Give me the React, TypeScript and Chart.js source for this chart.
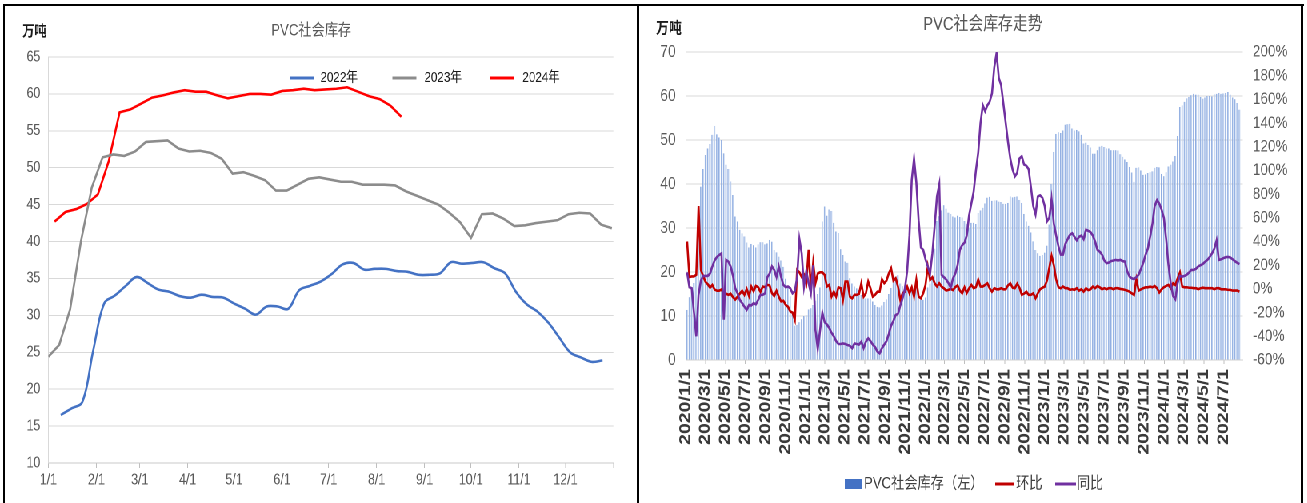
import React, { useEffect, useRef } from 'react';
import { Chart, registerables } from 'chart.js';

Chart.register(...registerables);

const FONT = "'Liberation Sans', 'Noto Sans CJK SC', sans-serif";
const DAY_MS = 86400000;
const WEEK = 7;

// ---------------- Left chart: PVC社会库存 (万吨), weekly readings by year ----------------
const leftTitle = 'PVC社会库存';
const unitLabel = '万吨';
const monthLabels = ['1/1', '2/1', '3/1', '4/1', '5/1', '6/1', '7/1', '8/1', '9/1', '10/1', '11/1', '12/1'];
const yearNames = ['2022年', '2023年', '2024年'];
const yearColors = ['#4472C4', '#8C8C8C', '#FF0000'];
// day-of-year of the first weekly reading of each year
const start2022 = 8;
const start2023 = 0;
const start2024 = 4;

const stock2022 = [
  16.5, 17.4, 18.3, 25.3, 31.6, 32.7, 34.0, 35.2, 34.4, 33.5,
  33.2, 32.6, 32.4, 32.8, 32.5, 32.4, 31.6, 30.9, 30.1, 31.2,
  31.2, 30.9, 33.4, 34.0, 34.6, 35.6, 36.9, 37.1, 36.2, 36.3,
  36.3, 36.0, 35.9, 35.5, 35.5, 35.7, 37.2, 37.0, 37.1, 37.2,
  36.4, 35.7, 33.2, 31.5, 30.5, 29.0, 27.0, 25.0, 24.3, 23.7,
  23.9,
];
const stock2023 = [
  24.4, 26.0, 30.8, 40.0, 47.3, 51.4, 51.8, 51.6, 52.2, 53.5,
  53.6, 53.7, 52.6, 52.2, 52.3, 52.0, 51.2, 49.2, 49.4, 48.9,
  48.3, 46.9, 46.9, 47.7, 48.5, 48.7, 48.4, 48.1, 48.1, 47.7,
  47.7, 47.7, 47.6, 46.8, 46.2, 45.6, 45.0, 43.9, 42.6, 40.5,
  43.7, 43.8, 43.1, 42.1, 42.2, 42.5, 42.7, 42.9, 43.7, 43.9,
  43.8, 42.3, 41.8,
];
const stock2024 = [
  42.7, 44.0, 44.4, 45.1, 46.4, 50.9, 57.5, 57.9, 58.7, 59.5,
  59.8, 60.2, 60.5, 60.3, 60.3, 59.8, 59.4, 59.7, 60.0, 60.0,
  59.9, 60.4, 60.5, 60.7, 60.5, 60.6, 60.7, 60.9, 60.3, 59.7,
  59.3, 58.4, 56.9,
];

// ---------------- Right chart: PVC社会库存走势 ----------------
const rightTitle = 'PVC社会库存走势';
const rightLegend = ['PVC社会库存（左）', '环比', '同比'];
const rightTickLabels = [
  '2020/1/1', '2020/3/1', '2020/5/1', '2020/7/1', '2020/9/1', '2020/11/1',
  '2021/1/1', '2021/3/1', '2021/5/1', '2021/7/1', '2021/9/1', '2021/11/1',
  '2022/1/1', '2022/3/1', '2022/5/1', '2022/7/1', '2022/9/1', '2022/11/1',
  '2023/1/1', '2023/3/1', '2023/5/1', '2023/7/1', '2023/9/1', '2023/11/1',
  '2024/1/1', '2024/3/1', '2024/5/1', '2024/7/1',
];
const axisStartDate = '2020/1/1';
const axisEndDate = '2024/8/28';
const firstWeekDate = '2020/1/5';

const stock2020 = [
  11.4, 14.3, 15.8, 17.5, 20.0, 34.0, 39.4, 43.4, 46.6, 48.1,
  49.1, 51.2, 53.2, 51.3, 50.6, 50.0, 47.0, 44.4, 43.4, 40.6,
  37.5, 32.6, 31.5, 29.6, 28.8, 28.1, 26.7, 25.6, 26.4, 26.1,
  25.6, 26.3, 26.8, 26.8, 26.3, 26.5, 27.3, 26.9, 25.0, 24.5,
  23.5, 22.6, 21.2, 18.5, 16.5, 14.5, 11.0, 7.8, 8.0, 8.6,
  9.3, 10.0,
];
const stock2021 = [
  10.2, 11.5, 11.8, 12.5, 13.5, 15.0, 16.5, 31.5, 34.9, 32.8,
  34.2, 33.9, 31.2, 29.2, 28.9, 25.2, 23.9, 22.4, 22.1, 18.6,
  17.4, 16.7, 16.3, 15.9, 14.8, 14.4, 14.0, 14.0, 14.0, 13.3,
  12.5, 12.1, 12.0, 12.4, 13.2, 13.8, 15.0, 16.4, 18.0, 19.0,
  19.3, 17.4, 16.8, 17.0, 16.5, 16.0, 16.2, 15.4, 16.4, 15.3,
  14.2, 13.7, 14.2,
];

// 环比 (%)
const mom2020 = [
  40, 10, 10.5, 10.5, 12, 70, 16, 11, 6, 4,
  1, 3.4, -0.5, -1.5, -1.5, -0.5, -4, -4, -5, -4,
  -7, -9, -6.5, -4, -1.5, -5, 0, -6, 2, -2,
  2.5, 1.5, -2.5, 2, 1.5, 3.4, 3, -3.5, -6, -1.5,
  -6.5, -10.5, -10, -13.5, -15, -19, -20, -26, 16, 14,
  10, 12,
];
const mom2021 = [
  5, 33, 0, 22, 5, 13, 14, 14, 11.8, 2,
  3.4, -6.5, -2.3, -6.5, 1.4, 0.6, -9.3, 6.2, 6.2, -6.5,
  -7.9, -5, -5, -4.2, 4.8, -6.5, -3.7, 6.2, 0.6, -6.5,
  -5, -2.3, -2.3, 8.2, 4.8, 7, 13.2, 17.5, 7, 9,
  2, -9.3, -3.7, -2.3, 2, -3.7, 1.4, -6.5, 7.6, -6.5,
  -7.9, -3.7, 3.4,
];
const mom2022 = [
  18.9, 7.6, 9.9, 4.8, 2, 4.8, 2, 0.6, -1.4, -0.8,
  0, -1, 1.5, 3, -1.4, -3.7, 1.4, -3.5, 0.6, 3.4,
  0.6, 1.5, 8, 2, 2, 3.4, 4.8, 0.5, -2.3, 0.6,
  -0.3, -0.3, 0.6, -0.3, -0.3, 3, 4.8, 1, 0.6, 4.5,
  1, -5, -4, -2.3, -5, -5, -3.7, -7.9, -3.7, -0.3,
  1,
];
const mom2023 = [
  2, 7, 18, 28, 20, 8, 1.4, 0.6, 2, 0.6,
  0.6, -0.8, -0.3, -0.8, 0.6, -1.4, -0.3, -2.3, 0.6, -1,
  -0.3, 2, 0.6, 2.5, 1.4, -0.3, 0.6, -0.3, 0.6, 0.6,
  -0.3, 0.6, 0.6, 0, -0.3, -0.8, -1.4, -2.3, -3.7, -5,
  8.2, -1.4, -0.3, 0.6, 1.4, 1.4, 2, 1.4, 2.5, 0.6,
  -3, -0.3, 1.4,
];
const mom2024 = [
  2.5, 3.4, 0.6, 4.8, 3.4, 9, 13.8, 2, 1.4, 1.4,
  1, 1, 0.6, 0.6, -0.3, 0.6, 1, 0.6, 0.6, 0.6,
  0.6, -0.3, 0.6, 0.6, -0.3, -0.3, -0.3, -0.8, -0.8, -1.4,
  -1.4, -1.4, -2.3,
];

// 同比 (%)
const yoy2020 = [
  14, 1.4, 0.6, -20, -40, -5, 7, 11, 11, 11,
  13, 19, 24, 27, 28.7, 30, -26, 24.5, 23, 19,
  11, 0.6, -3.7, -9.3, -12, -15, -17.7, -13.5, -14, -12,
  -13, -9.3, -5, -5, -3.7, 9.9, 13, 19, 16, 10,
  19, 10, 3.4, 1.4, 2, 0.6, -3.7, -2, 10, 42,
  30, 2,
];
const yoy2021 = [
  15, 5, -3.7, 20, -35, -50.7, -35, -20, -28, -30,
  -33, -37, -40, -44, -46.5, -46.5, -46, -46.5, -47.3, -48,
  -50, -46, -46.5, -47, -44.5, -50, -44.5, -41.7, -44, -47,
  -49, -53, -54.4, -50, -47, -44, -38, -31, -27, -22,
  -21, -14, -8, 0, 15, 45, 92, 110, 90, 58,
  35, 33, 25,
];
const yoy2022 = [
  19, 13, 30, 53, 78, 88, 12, 10, 8, 5,
  1, 9, 13, 20, 33, 37, 39, 45, 62, 72,
  82, 100, 115, 140, 155, 150, 155, 158, 165, 187,
  199, 178, 172, 156, 140, 124, 110, 100.6, 95, 98,
  110, 112, 105, 104, 101, 86, 70, 63, 78, 79,
  77,
];
const yoy2023 = [
  70, 57, 60, 76, 55, 45, 36, 29, 29, 38,
  42, 45.6, 47, 44, 41, 44, 45, 42, 50, 49,
  48, 45, 40, 33, 31.5, 29, 24, 21.7, 22.3, 23.5,
  24, 24.5, 24, 24.5, 23.5, 23, 15, 10.4, 9, 8.2,
  10, 12, 17, 22, 28.7, 34, 44, 55, 70, 75,
  72, 67, 60,
];
const yoy2024 = [
  42, 20, 5, -6, -8.7, 5, 11, 10.4, 11, 12,
  14, 16, 16, 17, 19, 20, 21, 23, 24.5, 27,
  30, 34, 41, 24.5, 25, 26, 26.8, 27, 26.5, 25,
  23.5, 22, 21,
];

// ---------------- helpers ----------------
const dayOfYear = (label: string) => {
  const [m, d] = label.split('/').map(Number);
  return (Date.UTC(2023, m - 1, d) - Date.UTC(2023, 0, 1)) / DAY_MS;
};
const daysFrom = (label: string, base: string) => {
  const [y, m, d] = label.split('/').map(Number);
  const [by, bm, bd] = base.split('/').map(Number);
  return (Date.UTC(y, m - 1, d) - Date.UTC(by, bm - 1, bd)) / DAY_MS;
};
const weekly = (values: number[], start: number) => values.map((v, i) => ({ x: start + WEEK * i, y: v }));

// ---------------- layout (pre-scale px; page is squeezed horizontally) ----------------
const SQUEEZE = 0.8;
const L = { left: 7.5, top: 7, w: 788, h: 496, plotLeft: 52.5, plotRight: 758.75, plotTop: 50, plotBottom: 456 };
const R = { left: 801.25, top: 7, w: 825, h: 496, plotLeft: 56.25, plotRight: 752.5, plotTop: 45, plotBottom: 353 };

function LeftChart() {
  const ref = useRef<HTMLCanvasElement | null>(null);
  useEffect(() => {
    if (!ref.current) return;
    const tickDays = [...monthLabels.map(dayOfYear), 365];
    const tickText = [...monthLabels, ''];
    const series = [
      weekly(stock2022, start2022),
      weekly(stock2023, start2023),
      weekly(stock2024, start2024),
    ];
    const decor = {
      id: 'leftDecor',
      afterDraw(chart: any) {
        const ctx = chart.ctx as CanvasRenderingContext2D;
        ctx.save();
        ctx.textBaseline = 'middle';
        ctx.fillStyle = '#595959';
        ctx.font = `16.5px ${FONT}`;
        ctx.textAlign = 'center';
        ctx.fillText(leftTitle, 381, 24);
        ctx.textAlign = 'left';
        ctx.fillStyle = '#1a1a1a';
        ctx.font = `bold 15px ${FONT}`;
        ctx.fillText(unitLabel, 20, 25);
        const pos = [
          { x: 354, tx: 392.5 },
          { x: 482.5, tx: 522.5 },
          { x: 605, tx: 645 },
        ];
        ctx.font = `14.5px ${FONT}`;
        yearNames.forEach((name, i) => {
          ctx.strokeStyle = yearColors[i];
          ctx.lineWidth = 3;
          ctx.beginPath();
          ctx.moveTo(pos[i].x, 71);
          ctx.lineTo(pos[i].x + 30, 71);
          ctx.stroke();
          ctx.fillStyle = '#1a1a1a';
          ctx.fillText(name, pos[i].tx, 71);
        });
        ctx.restore();
      },
    };
    const chart = new Chart(ref.current, {
      type: 'line',
      data: {
        datasets: yearNames.map((name, i) => ({
          label: name,
          data: series[i],
          borderColor: yearColors[i],
          backgroundColor: yearColors[i],
          borderWidth: 2.6,
          pointRadius: 0,
          tension: i === 0 ? 0.35 : 0,
          fill: false,
        })),
      },
      options: {
        responsive: false,
        maintainAspectRatio: false,
        animation: false,
        devicePixelRatio: 2,
        events: [],
        layout: { padding: { left: 0, right: L.w - L.plotRight, top: L.plotTop, bottom: 0 } },
        plugins: { legend: { display: false }, tooltip: { enabled: false }, title: { display: false } },
        scales: {
          x: {
            type: 'linear',
            min: 0,
            max: 365,
            afterBuildTicks: (axis: any) => {
              axis.ticks = tickDays.map((v) => ({ value: v }));
            },
            afterFit: (axis: any) => {
              axis.height = L.h - L.plotBottom;
            },
            ticks: {
              autoSkip: false,
              maxRotation: 0,
              minRotation: 0,
              padding: 3,
              color: '#595959',
              font: { family: FONT, size: 15.5 },
              callback: (_v: any, i: number) => tickText[i],
            },
            grid: { drawOnChartArea: false, drawTicks: true, tickLength: 5, color: '#bfbfbf' },
            border: { display: true, color: '#c8c8c8' },
          },
          y: {
            min: 10,
            max: 65,
            afterFit: (axis: any) => {
              axis.width = L.plotLeft;
            },
            ticks: { stepSize: 5, padding: 10, color: '#595959', font: { family: FONT, size: 15.5 } },
            grid: { color: '#d9d9d9', drawTicks: false },
            border: { display: true, color: '#d9d9d9' },
          },
        },
      },
      plugins: [decor],
    } as any);
    return () => chart.destroy();
  }, []);
  return (
    <canvas
      ref={ref}
      width={L.w}
      height={L.h}
      style={{ position: 'absolute', left: L.left, top: L.top, width: L.w, height: L.h }}
    />
  );
}

function RightChart() {
  const ref = useRef<HTMLCanvasElement | null>(null);
  useEffect(() => {
    if (!ref.current) return;
    const tickDays = rightTickLabels.map((t) => daysFrom(t, axisStartDate));
    const start = daysFrom(firstWeekDate, axisStartDate);
    const stockAll = [...stock2020, ...stock2021, ...stock2022, ...stock2023, ...stock2024];
    const momAll = [...mom2020, ...mom2021, ...mom2022, ...mom2023, ...mom2024];
    const yoyAll = [...yoy2020, ...yoy2021, ...yoy2022, ...yoy2023, ...yoy2024];
    const decor = {
      id: 'rightDecor',
      afterDraw(chart: any) {
        const ctx = chart.ctx as CanvasRenderingContext2D;
        ctx.save();
        ctx.textBaseline = 'middle';
        ctx.fillStyle = '#595959';
        ctx.font = `18.5px ${FONT}`;
        ctx.textAlign = 'center';
        ctx.fillText(rightTitle, 427.5, 18);
        ctx.textAlign = 'left';
        ctx.fillStyle = '#1a1a1a';
        ctx.font = `bold 16px ${FONT}`;
        ctx.fillText(unitLabel, 19, 22);
        // legend
        const ly = 477;
        ctx.font = `16.5px ${FONT}`;
        ctx.fillStyle = '#4472C4';
        ctx.fillRect(255, ly - 5, 21, 10);
        ctx.fillStyle = '#404040';
        ctx.fillText(rightLegend[0], 279, ly);
        ctx.lineWidth = 3;
        ctx.strokeStyle = '#C00000';
        ctx.beginPath();
        ctx.moveTo(443, ly);
        ctx.lineTo(467, ly);
        ctx.stroke();
        ctx.fillText(rightLegend[1], 469, ly);
        ctx.strokeStyle = '#7030A0';
        ctx.beginPath();
        ctx.moveTo(518, ly);
        ctx.lineTo(544, ly);
        ctx.stroke();
        ctx.fillText(rightLegend[2], 545, ly);
        ctx.restore();
      },
    };
    const chart = new Chart(ref.current, {
      type: 'bar',
      data: {
        datasets: [
          {
            type: 'bar',
            label: rightLegend[0],
            data: weekly(stockAll, start),
            yAxisID: 'y',
            backgroundColor: '#bccfee',
            borderColor: '#6f95d8',
            borderWidth: { left: 0.8, right: 0, top: 0, bottom: 0 },
            borderSkipped: false,
            barPercentage: 0.68,
            categoryPercentage: 1,
            order: 3,
          },
          {
            type: 'line',
            label: rightLegend[1],
            data: weekly(momAll, start),
            yAxisID: 'y2',
            borderColor: '#C00000',
            backgroundColor: '#C00000',
            borderWidth: 2.6,
            pointRadius: 0,
            tension: 0,
            order: 2,
          },
          {
            type: 'line',
            label: rightLegend[2],
            data: weekly(yoyAll, start),
            yAxisID: 'y2',
            borderColor: '#7030A0',
            backgroundColor: '#7030A0',
            borderWidth: 2.6,
            pointRadius: 0,
            tension: 0,
            order: 1,
          },
        ],
      },
      options: {
        responsive: false,
        maintainAspectRatio: false,
        animation: false,
        devicePixelRatio: 2,
        events: [],
        layout: { padding: { left: 0, right: 0, top: R.plotTop, bottom: 0 } },
        plugins: { legend: { display: false }, tooltip: { enabled: false }, title: { display: false } },
        scales: {
          x: {
            type: 'linear',
            offset: false,
            min: 0,
            max: daysFrom(axisEndDate, axisStartDate),
            afterBuildTicks: (axis: any) => {
              axis.ticks = tickDays.map((v) => ({ value: v }));
            },
            afterFit: (axis: any) => {
              axis.height = R.h - R.plotBottom;
            },
            ticks: {
              autoSkip: false,
              maxRotation: 90,
              minRotation: 90,
              padding: 5,
              color: '#3a3a3a',
              font: { family: FONT, size: 19.5, weight: 'bold' },
              callback: (_v: any, i: number) => rightTickLabels[i],
            },
            grid: { drawOnChartArea: false, drawTicks: true, tickLength: 4, color: '#bfbfbf', offset: false },
            border: { display: true, color: '#d0d0d0' },
          },
          y: {
            position: 'left',
            min: 0,
            max: 70,
            afterFit: (axis: any) => {
              axis.width = R.plotLeft;
            },
            ticks: { stepSize: 10, padding: 12.5, color: '#595959', font: { family: FONT, size: 17.5 } },
            grid: { color: '#d9d9d9', drawTicks: false },
            border: { display: false },
          },
          y2: {
            position: 'right',
            min: -60,
            max: 200,
            afterFit: (axis: any) => {
              axis.width = R.w - R.plotRight;
            },
            ticks: {
              stepSize: 20,
              padding: 12.5,
              color: '#595959',
              font: { family: FONT, size: 17 },
              callback: (v: any) => `${v}%`,
            },
            grid: { display: false, drawTicks: false },
            border: { display: false },
          },
        },
      },
      plugins: [decor],
    } as any);
    return () => chart.destroy();
  }, []);
  return (
    <canvas
      ref={ref}
      width={R.w}
      height={R.h}
      style={{ position: 'absolute', left: R.left, top: R.top, width: R.w, height: R.h }}
    />
  );
}

export default function App() {
  const line = (left: number, top: number, width: number, height: number) => (
    <div style={{ position: 'absolute', left, top, width, height, background: '#000' }} />
  );
  return (
    <div
      style={{
        position: 'fixed',
        left: 0,
        top: 0,
        width: 1307,
        height: 503,
        overflow: 'hidden',
        background: '#fff',
      }}
    >
      <div
        style={{
          position: 'absolute',
          left: 0,
          top: 0,
          width: 1307 / SQUEEZE,
          height: 503,
          transform: `scaleX(${SQUEEZE})`,
          transformOrigin: '0 0',
        }}
      >
        <LeftChart />
        <RightChart />
      </div>
      {line(3, 4, 1301, 2)}
      {line(3, 4, 2, 499)}
      {line(637, 4, 2, 499)}
      {line(1301, 4, 2, 499)}
    </div>
  );
}
